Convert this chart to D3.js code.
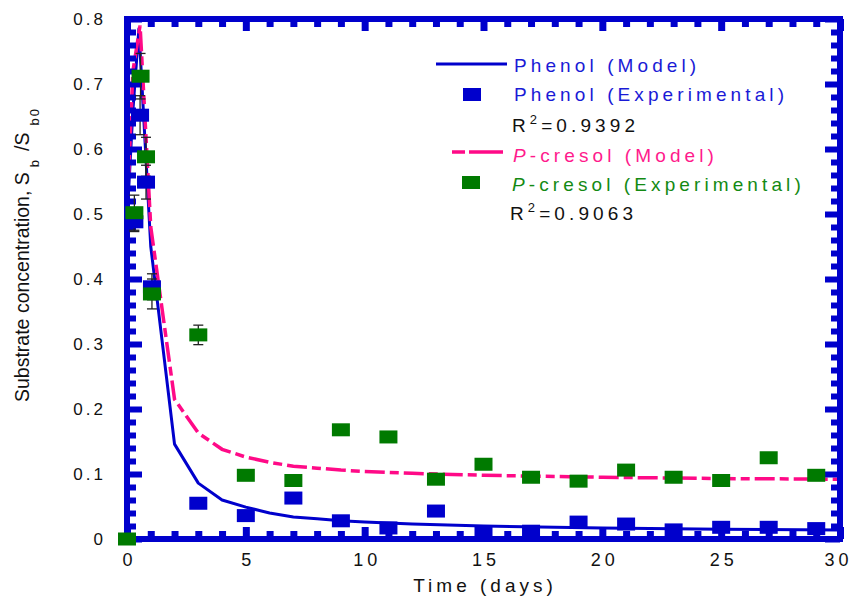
<!DOCTYPE html>
<html>
<head>
<meta charset="utf-8">
<script src="https://cdn.jsdelivr.net/npm/d3@7/dist/d3.min.js"></script>
<style>
  html, body { margin: 0; padding: 0; background: #fff; }
  svg { display: block; font-family: Arial, "Liberation Sans", sans-serif; }
</style>
</head>
<body>
<svg id="chart" width="852" height="597"></svg>
<script>
// Phenol model curve (days, S/S0)
const phenolModelT = [0, 0.25, 0.5, 1, 2, 3, 4, 5, 6, 7, 8, 9, 10, 12, 15, 20, 25, 30];
const phenolModelS = [0.49, 0.66, 0.785, 0.45, 0.146, 0.086, 0.06, 0.049, 0.04, 0.034, 0.031, 0.028, 0.026, 0.023, 0.02, 0.017, 0.015, 0.014];

// p-cresol model curve
const cresolModelT = [0, 0.25, 0.55, 1, 2, 3, 4, 5, 6, 7, 8, 9, 10, 12, 15, 20, 25, 30];
const cresolModelS = [0.5, 0.72, 0.79, 0.48, 0.215, 0.163, 0.138, 0.126, 0.118, 0.112, 0.109, 0.106, 0.104, 0.101, 0.098, 0.095, 0.093, 0.092];

// Phenol measurements with error
const phenolExpT = [0.31, 0.55, 0.8, 1.05, 3, 5, 7, 9, 11, 13, 15, 17, 19, 21, 23, 25, 27, 29];
const phenolExpS = [0.488, 0.652, 0.549, 0.388, 0.055, 0.036, 0.063, 0.028, 0.017, 0.043, 0.011, 0.012, 0.026, 0.023, 0.014, 0.018, 0.018, 0.016];
const phenolExpErr = [0.015, 0.03, 0.026, 0.02, 0, 0, 0, 0, 0, 0, 0, 0, 0, 0, 0, 0, 0, 0];

// p-cresol measurements with error
const cresolExpT = [0, 0.31, 0.57, 0.8, 1.05, 3, 5, 7, 9, 11, 13, 15, 17, 19, 21, 23, 25, 27, 29];
const cresolExpS = [0, 0.502, 0.712, 0.588, 0.377, 0.314, 0.098, 0.09, 0.168, 0.157, 0.092, 0.115, 0.095, 0.089, 0.106, 0.095, 0.09, 0.125, 0.098];
const cresolExpErr = [0, 0.027, 0.035, 0.03, 0.023, 0.015, 0, 0, 0, 0, 0, 0, 0, 0, 0, 0, 0, 0, 0];

const xMajor = [0, 5, 10, 15, 20, 25, 30];
const yMajor = [0, 0.1, 0.2, 0.3, 0.4, 0.5, 0.6, 0.7, 0.8];

const BLUE = "#0000cc";
const PINK = "#ff0a87";
const GREEN = "#007a00";

const svg = d3.select("#chart");
const x = d3.scaleLinear().domain([0, 30]).range([127, 840]);
const y = d3.scaleLinear().domain([0, 0.8]).range([539, 19]);

// model curves
const line = d3.line().x(d => x(d[0])).y(d => y(d[1]));
svg.append("path")
  .datum(phenolModelT.map((t, i) => [t, phenolModelS[i]]))
  .attr("d", line).attr("fill", "none")
  .attr("stroke", BLUE).attr("stroke-width", 3).attr("stroke-linejoin", "round");
svg.append("path")
  .datum(cresolModelT.map((t, i) => [t, cresolModelS[i]]))
  .attr("d", line).attr("fill", "none")
  .attr("stroke", PINK).attr("stroke-width", 3.5)
  .attr("stroke-dasharray", "20,5,9,5");

// frame with inward ticks on all four sides
const frame = svg.append("g");
frame.append("rect")
  .attr("x", x(0)).attr("y", y(0.8))
  .attr("width", x(30) - x(0)).attr("height", y(0) - y(0.8))
  .attr("fill", "none").attr("stroke", BLUE).attr("stroke-width", 6);

function tickAxis(axisFn, scale, values, size, width, transform) {
  const g = frame.append("g").attr("transform", transform)
    .call(axisFn(scale).tickValues(values).tickSize(size).tickFormat(""));
  g.select(".domain").remove();
  g.selectAll(".tick line").attr("stroke", BLUE).attr("stroke-width", width);
}
const xMinor = d3.range(0, 31, 1).filter(v => v % 5 !== 0);
const yMinor = d3.range(0, 41, 1).filter(v => v % 5 !== 0).map(v => v * 0.02);

tickAxis(d3.axisBottom, x, xMinor, -8, 7, `translate(0,${y(0)})`);
tickAxis(d3.axisBottom, x, xMajor, -12, 7, `translate(0,${y(0)})`);
tickAxis(d3.axisTop, x, xMinor, -8, 7, `translate(0,${y(0.8)})`);
tickAxis(d3.axisTop, x, xMajor, -12, 7, `translate(0,${y(0.8)})`);
tickAxis(d3.axisLeft, y, yMinor, -9, 6, `translate(${x(0)},0)`);
tickAxis(d3.axisLeft, y, yMajor, -15, 6, `translate(${x(0)},0)`);
tickAxis(d3.axisRight, y, yMinor, -9, 6, `translate(${x(30)},0)`);
tickAxis(d3.axisRight, y, yMajor, -15, 6, `translate(${x(30)},0)`);

// tick labels
const xl = svg.append("g").attr("transform", `translate(0,${y(0) + 14})`)
  .call(d3.axisBottom(x).tickValues(xMajor).tickSize(0).tickPadding(0).tickFormat(d3.format("d")));
xl.select(".domain").remove();
xl.selectAll("text")
  .attr("font-size", 18).attr("fill", "#111").attr("letter-spacing", 4)
  .attr("font-family", "Arial, 'Liberation Sans', sans-serif")
  .attr("dx", d => d === 30 ? -2 : 2);

const yl = svg.append("g").attr("transform", `translate(${x(0) - 21},0)`)
  .call(d3.axisLeft(y).tickValues(yMajor).tickSize(0).tickPadding(0).tickFormat(d => d === 0 ? "0" : d3.format(".1f")(d)));
yl.select(".domain").remove();
yl.selectAll("text")
  .attr("font-size", 17).attr("fill", "#111").attr("letter-spacing", 3)
  .attr("font-family", "Arial, 'Liberation Sans', sans-serif");

// error bars
function errorBars(T, S, E) {
  const g = svg.append("g").attr("stroke", "#222").attr("stroke-width", 1.3);
  T.forEach((t, i) => {
    if (!E[i]) return;
    const cx = x(t), y1 = y(S[i] + E[i]), y2 = y(S[i] - E[i]);
    g.append("line").attr("x1", cx).attr("x2", cx).attr("y1", y1).attr("y2", y2);
    g.append("line").attr("x1", cx - 5).attr("x2", cx + 5).attr("y1", y1).attr("y2", y1);
    g.append("line").attr("x1", cx - 5).attr("x2", cx + 5).attr("y1", y2).attr("y2", y2);
  });
}
errorBars(phenolExpT, phenolExpS, phenolExpErr);
errorBars(cresolExpT, cresolExpS, cresolExpErr);

// experimental markers
const SW = 18, SH = 13;
svg.append("g").selectAll("rect")
  .data(phenolExpT.map((t, i) => [t, phenolExpS[i]]))
  .join("rect")
  .attr("x", d => x(d[0]) - SW / 2).attr("y", d => y(d[1]) - SH / 2)
  .attr("width", SW).attr("height", SH).attr("fill", BLUE);
svg.append("g").selectAll("rect")
  .data(cresolExpT.map((t, i) => [t, cresolExpS[i]]))
  .join("rect")
  .attr("x", d => x(d[0]) - SW / 2).attr("y", d => y(d[1]) - SH / 2)
  .attr("width", SW).attr("height", SH).attr("fill", GREEN);

// axis titles
svg.append("text")
  .attr("x", 485).attr("y", 592).attr("text-anchor", "middle")
  .attr("font-size", 19).attr("letter-spacing", 4).attr("fill", "#111")
  .text("Time (days)");

const yt = svg.append("text")
  .attr("transform", "translate(29,402) rotate(-90)")
  .attr("font-size", 19.5).attr("fill", "#111");
yt.append("tspan").text("Substrate concentration, S");
yt.append("tspan").attr("font-size", 13).attr("dy", 10).attr("dx", 5).text("b");
yt.append("tspan").attr("dy", -10).attr("dx", 9).text("/S");
yt.append("tspan").attr("font-size", 13).attr("dy", 10).attr("dx", 7).text("b");
yt.append("tspan").attr("font-size", 13).attr("dx", 2).text("0");

// legend
const lg = svg.append("g").attr("font-size", 19).attr("letter-spacing", 4.1);
lg.append("line").attr("x1", 436).attr("x2", 507).attr("y1", 64).attr("y2", 64)
  .attr("stroke", BLUE).attr("stroke-width", 3);
lg.append("text").attr("x", 514).attr("y", 72).attr("fill", "#1a1ad6").text("Phenol (Model)");
lg.append("rect").attr("x", 463).attr("y", 88).attr("width", SW).attr("height", SH).attr("fill", BLUE);
lg.append("text").attr("x", 514).attr("y", 101).attr("fill", "#1a1ad6").text("Phenol (Experimental)");

function r2(yPos, xPos, val) {
  const t = lg.append("text").attr("x", xPos).attr("y", yPos).attr("fill", "#111");
  t.append("tspan").text("R");
  t.append("tspan").attr("font-size", 13).attr("dy", -8).text("2");
  t.append("tspan").attr("dy", 8).text("=" + val);
}
r2(132, 512, "0.9392");

lg.append("line").attr("x1", 452).attr("x2", 503).attr("y1", 152).attr("y2", 152)
  .attr("stroke", PINK).attr("stroke-width", 3.5).attr("stroke-dasharray", "13,4,40");
const pm = lg.append("text").attr("x", 513).attr("y", 162).attr("fill", "#ff1a8c");
pm.append("tspan").attr("font-style", "italic").text("P");
pm.append("tspan").text("-cresol (Model)");
lg.append("rect").attr("x", 462).attr("y", 176).attr("width", SW).attr("height", SH).attr("fill", GREEN);
const pe = lg.append("text").attr("x", 512).attr("y", 191).attr("fill", "#138a13");
pe.append("tspan").attr("font-style", "italic").text("P");
pe.append("tspan").text("-cresol (Experimental)");
r2(220, 510, "0.9063");
</script>
</body>
</html>
